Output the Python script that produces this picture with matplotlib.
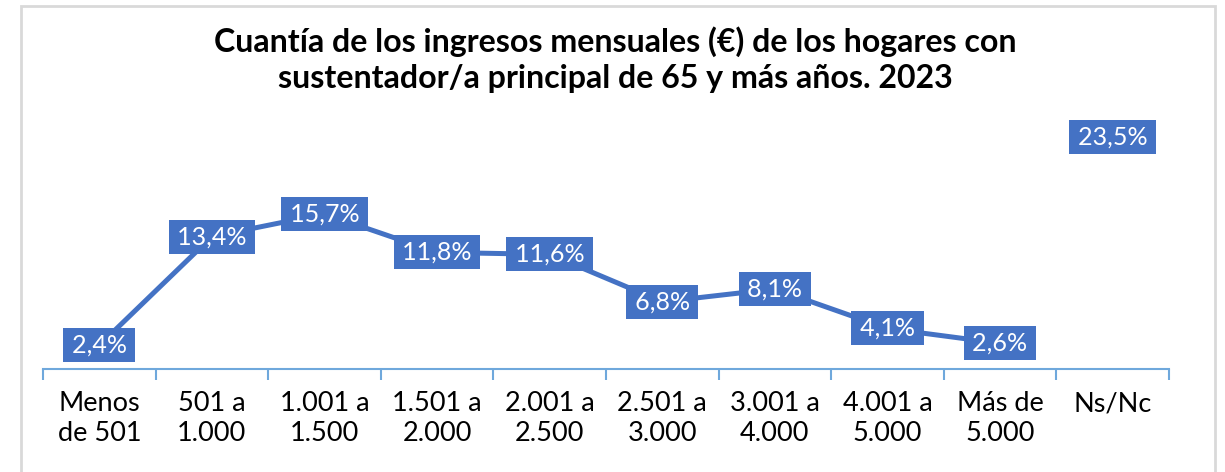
import matplotlib
matplotlib.use("Agg")
import matplotlib.pyplot as plt
from matplotlib.patches import Rectangle

categories = ["Menos\nde 501", "501 a\n1.000", "1.001 a\n1.500", "1.501 a\n2.000",
              "2.001 a\n2.500", "2.501 a\n3.000", "3.001 a\n4.000", "4.001 a\n5.000",
              "Más de\n5.000", "Ns/Nc"]
values = [2.4, 13.4, 15.7, 11.8, 11.6, 6.8, 8.1, 4.1, 2.6, 23.5]
connected = 9  # Ns/Nc is not joined to the line
title = "Cuantía de los ingresos mensuales (€) de los hogares con\nsustentador/a principal de 65 y más años. 2023"

BLUE = "#4472C4"
AXIS = "#6FA8DC"

plt.rcParams['font.family'] = ['Lato', 'DejaVu Sans']

fig = plt.figure(figsize=(12.25, 4.72), dpi=100)
fig.patch.set_facecolor("white")
fig.patches.append(Rectangle((21/1225, -0.05), (1215-21)/1225, 1 - 6/472 + 0.05,
                             transform=fig.transFigure, fill=False,
                             edgecolor="#D9D9D9", linewidth=2))

ax = fig.add_axes([43/1225, 1-369/472, (1169-43)/1225, (369-122)/472])
x = list(range(len(values)))
ax.plot(x[:connected], values[:connected], color=BLUE, linewidth=3.6,
        solid_capstyle="round", solid_joinstyle="round", zorder=2)

for xi, v in zip(x, values):
    ax.text(xi, v, "\u2009" + f"{v:.1f}".replace(".", ",") + "%\u2009", ha="center", va="center",
            color="white", fontsize=18, zorder=3,
            bbox=dict(boxstyle="square,pad=0.22", facecolor=BLUE, edgecolor="none"))

ax.set_xlim(-0.5, len(values) - 0.5)
ax.set_ylim(0, 25)
for s in ["top", "right", "left"]:
    ax.spines[s].set_visible(False)
ax.spines["bottom"].set_color(AXIS)
ax.spines["bottom"].set_linewidth(1.5)
ax.set_yticks([])

ax.set_xticks([i - 0.5 for i in range(len(values) + 1)])
ax.set_xticklabels([])
ax.tick_params(axis="x", which="major", length=8, width=1.5, color=AXIS, direction="out")
ax.set_xticks(x, minor=True)
ax.set_xticklabels(categories, minor=True, fontsize=19.5, color="black", linespacing=1.25)
ax.tick_params(axis="x", which="minor", length=0, pad=16)

fig.text(615/1225, 1 - 60/472, title, ha="center", va="center", fontsize=23.1,
         fontweight="bold", color="black", linespacing=1.3)

fig.savefig("out.png", dpi=100, facecolor="white")
